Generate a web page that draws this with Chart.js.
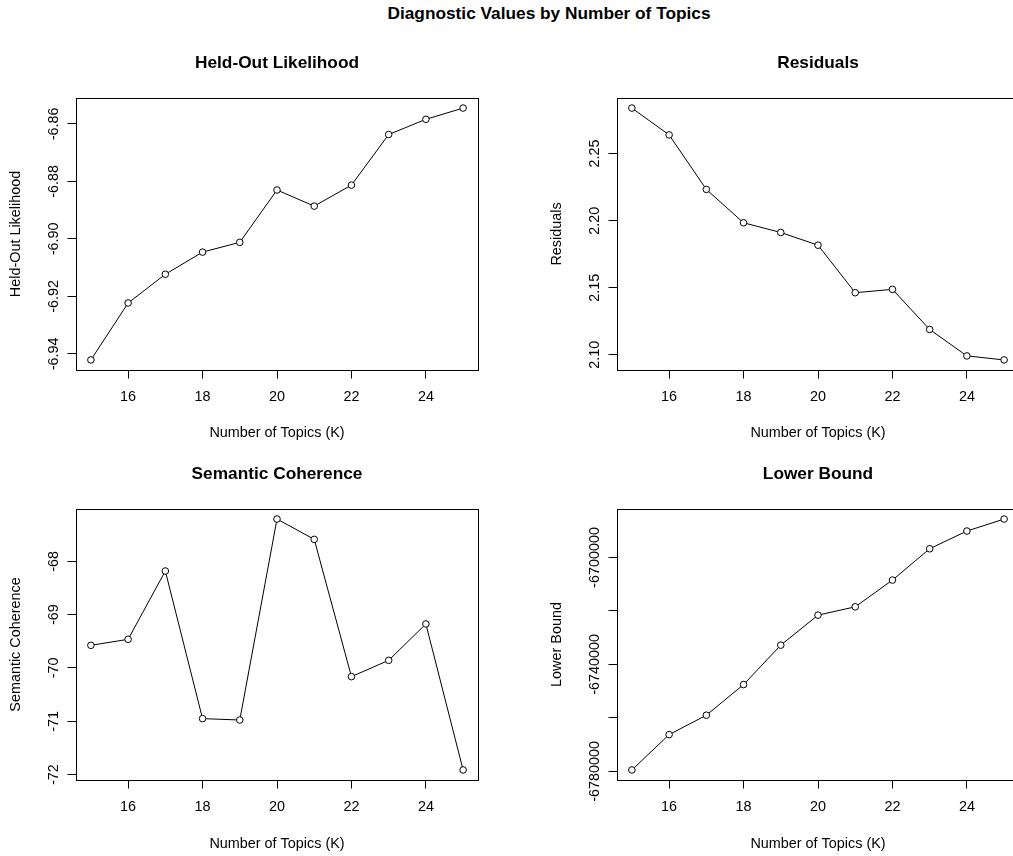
<!DOCTYPE html>
<html>
<head>
<meta charset="utf-8">
<script src="https://cdn.jsdelivr.net/npm/chart.js@4.4.1/dist/chart.umd.min.js"></script>
<style>
  html, body { margin: 0; padding: 0; background: #fff; overflow: hidden; width: 1013px; height: 856px; }
  #main { position: absolute; left: 0; top: 3px; width: 1098px; line-height: 20px; text-align: center;
          font: bold 17.28px "Liberation Sans", Arial, Helvetica, sans-serif; color: #000; }
  canvas { position: absolute; }
</style>
</head>
<body>
<div id="main">Diagnostic Values by Number of Topics</div>
<canvas id="heldout" width="555" height="412" style="left:0px;top:28px"></canvas>
<canvas id="residuals" width="555" height="412" style="left:541px;top:28px"></canvas>
<canvas id="semcoh" width="555" height="412" style="left:0px;top:439px"></canvas>
<canvas id="lbound" width="555" height="412" style="left:541px;top:439px"></canvas>
<script>
// Number of topics searched
const topics = [15, 16, 17, 18, 19, 20, 21, 22, 23, 24, 25];
const xTicks = [16, 18, 20, 22, 24];

// Diagnostic values per K
const heldout   = [-6.9421, -6.9223, -6.9123, -6.9046, -6.9012, -6.8830, -6.8886, -6.8813, -6.8637, -6.8584, -6.8545];
const residuals = [2.2839, 2.2639, 2.2233, 2.1984, 2.1912, 2.1817, 2.1463, 2.1488, 2.1189, 2.0992, 2.0962];
const semcoh    = [-69.575, -69.463, -68.182, -70.950, -70.976, -67.207, -67.588, -70.163, -69.857, -69.175, -71.913];
const lbound    = [-6779506, -6766287, -6759021, -6747562, -6732806, -6721571, -6718463, -6708464, -6696742, -6690113, -6685619];

// Y tick positions and their printed labels
const heldoutTicks   = [-6.94, -6.92, -6.90, -6.88, -6.86];
const heldoutLabels  = ['-6.94', '-6.92', '-6.90', '-6.88', '-6.86'];
const residualTicks  = [2.10, 2.15, 2.20, 2.25];
const residualLabels = ['2.10', '2.15', '2.20', '2.25'];
const semcohTicks    = [-72, -71, -70, -69, -68];
const semcohLabels   = ['-72', '-71', '-70', '-69', '-68'];
const lboundTicks    = [-6780000, -6760000, -6740000, -6720000, -6700000];
const lboundLabels   = ['-6780000', '', '-6740000', '', '-6700000'];

const FONT = '"Liberation Sans", Arial, Helvetica, sans-serif';
const BASE = 14.4;

// Box, panel title and rotated y tick labels in base-graphics style
const basePanel = {
  id: 'basePanel',
  afterDraw(chart, args, opts) {
    const { ctx, chartArea: a } = chart;
    ctx.save();
    ctx.strokeStyle = '#000';
    ctx.lineWidth = 1;
    ctx.strokeRect(Math.round(a.left) + 0.5, Math.round(a.top) + 0.5,
                   Math.round(a.right - a.left), Math.round(a.bottom - a.top));
    ctx.fillStyle = '#000';
    ctx.textAlign = 'center';
    ctx.textBaseline = 'middle';
    ctx.font = 'bold ' + (BASE * 1.2) + 'px ' + FONT;
    ctx.fillText(opts.title, (a.left + a.right) / 2, a.top - 35);
    ctx.font = BASE + 'px ' + FONT;
    const ys = chart.scales.y;
    ys.ticks.forEach((t, i) => {
      const lab = opts.labels[i];
      if (!lab) return;
      ctx.save();
      ctx.translate(a.left - 22, ys.getPixelForValue(t.value));
      ctx.rotate(-Math.PI / 2);
      ctx.fillText(lab, 0, 0);
      ctx.restore();
    });
    ctx.restore();
  }
};

function makePanel(id, title, yTitle, values, yTicks, yLabels, xAxisHeight) {
  const lo = Math.min(...values), hi = Math.max(...values);
  const pad = (hi - lo) * 0.04;
  new Chart(document.getElementById(id), {
    type: 'line',
    data: {
      datasets: [{
        data: topics.map((k, i) => ({ x: k, y: values[i] })),
        borderColor: '#000',
        borderWidth: 1,
        tension: 0,
        fill: false,
        pointRadius: 3.3,
        pointHoverRadius: 3.3,
        pointBorderWidth: 1,
        pointBorderColor: '#000',
        pointBackgroundColor: '#fff'
      }]
    },
    options: {
      responsive: false,
      animation: false,
      events: [],
      layout: { padding: { top: 70, left: 0, right: 77, bottom: 0 } },
      plugins: {
        legend: { display: false },
        tooltip: { enabled: false },
        basePanel: { title: title, labels: yLabels }
      },
      scales: {
        x: {
          type: 'linear',
          min: 14.6,
          max: 25.4,
          afterBuildTicks: s => { s.ticks = xTicks.map(v => ({ value: v })); },
          afterFit: s => { s.height = xAxisHeight; },
          grid: { drawOnChartArea: false, drawTicks: true, tickLength: 8.5, color: '#000', lineWidth: 1 },
          border: { display: true, color: '#000', width: 1 },
          ticks: { color: '#000', padding: 10, maxRotation: 0, autoSkip: false,
                   font: { family: FONT, size: BASE, lineHeight: 1.2 },
                   callback: v => String(v) },
          title: { display: true, text: 'Number of Topics (K)', color: '#000',
                   font: { family: FONT, size: BASE, lineHeight: 1 }, padding: { top: 0, bottom: 0 } }
        },
        y: {
          type: 'linear',
          min: lo - pad,
          max: hi + pad,
          afterBuildTicks: s => { s.ticks = yTicks.map(v => ({ value: v })); },
          afterFit: s => { s.width = 76; },
          grid: { drawOnChartArea: false, drawTicks: true, tickLength: 8.5, color: '#000', lineWidth: 1 },
          border: { display: true, color: '#000', width: 1 },
          ticks: { display: false },
          title: { display: true, text: yTitle, color: '#000',
                   font: { family: FONT, size: BASE, lineHeight: 1 }, padding: { top: 9, bottom: 0 } }
        }
      }
    },
    plugins: [basePanel]
  });
}

makePanel('heldout', 'Held-Out Likelihood', 'Held-Out Likelihood', heldout, heldoutTicks, heldoutLabels, 70);
makePanel('residuals', 'Residuals', 'Residuals', residuals, residualTicks, residualLabels, 70);
makePanel('semcoh', 'Semantic Coherence', 'Semantic Coherence', semcoh, semcohTicks, semcohLabels, 71);
makePanel('lbound', 'Lower Bound', 'Lower Bound', lbound, lboundTicks, lboundLabels, 71);
</script>
</body>
</html>
